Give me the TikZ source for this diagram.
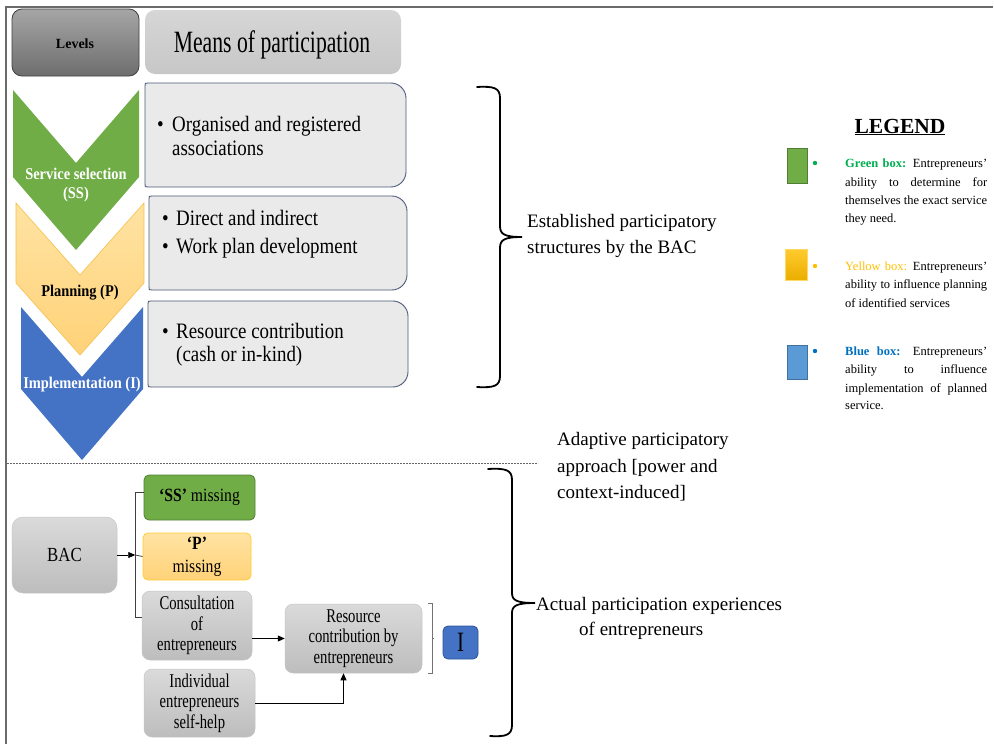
\documentclass[tikz,border=0pt]{standalone}
\usepackage{fontspec}
\setmainfont{Liberation Serif}
\newfontfamily\fA{Liberation Serif}[FakeStretch=0.70]
\newfontfamily\fB{Liberation Serif}[FakeStretch=0.86]
\newfontfamily\fC{Liberation Serif}[FakeStretch=0.75]
\newfontfamily\fD{Liberation Serif}[FakeStretch=0.84]
\newfontfamily\fE{Liberation Serif}[FakeStretch=0.88]
\usetikzlibrary{arrows.meta,calc}
\definecolor{cgreen}{HTML}{70AD47}
\definecolor{cgreenD}{HTML}{507E32}
\definecolor{cyelT}{HTML}{FFE3A3}
\definecolor{cyelB}{HTML}{FFD278}
\definecolor{cyelD}{HTML}{F5C04A}
\definecolor{cblue}{HTML}{4472C4}
\definecolor{cblueD}{HTML}{2F5597}
\definecolor{lgreen}{HTML}{00B050}
\definecolor{lyellow}{HTML}{FFC000}
\definecolor{lblue}{HTML}{0070C0}
\definecolor{sqblue}{HTML}{5B9BD5}
\definecolor{sqblueD}{HTML}{41719C}
\definecolor{sqyT}{HTML}{FFCB2E}
\definecolor{sqyB}{HTML}{EBAE00}
\definecolor{boxfill}{HTML}{EAEAEA}
\definecolor{boxline}{HTML}{4A5A78}
\definecolor{grT}{HTML}{DADADA}
\definecolor{grB}{HTML}{BDBDBD}
\definecolor{grD}{HTML}{C6C6C6}
\newcommand{\meansbox}[4]{%
  \path[meansfill] (#1,#2+3) .. controls (#1,#2) .. (#1+3,#2) -- (#3-15,#2)
    .. controls (#3-7,#2) and (#3,#2+7) .. (#3,#2+15) -- (#3,#4-15)
    .. controls (#3,#4-7) and (#3-7,#4) .. (#3-15,#4) -- (#1+3,#4)
    .. controls (#1,#4) .. (#1,#4-3) -- cycle;}
\begin{document}
\begin{tikzpicture}[x=1pt,y=-1pt,
  frame/.style={draw=black!58, line width=1.5pt},
  meansfill/.style={fill=boxfill, draw=boxline, line width=0.9pt},
  txt/.style={inner sep=0pt, anchor=base west},
  ctxt/.style={inner sep=0pt, anchor=base},
  bul/.style={txt, font=\fB\fontsize{22}{24}\selectfont},
  rtxt/.style={txt, font=\fontsize{19}{22}\selectfont},
  leg/.style={txt, font=\fontsize{12.5}{18}\selectfont},
  gbox/.style={rounded corners=8pt, top color=grT, bottom color=grB, draw=grD, line width=0.5pt,
    inner sep=0pt, align=center, font=\fC\fontsize{19.5}{20.5}\selectfont},
  arr/.style={-{Triangle[length=7pt,width=6pt]}, line width=0.8pt},
  thinline/.style={line width=0.8pt, draw=black!75},
  bracestyle/.style={line width=1.8pt, line cap=round},
  legsq/.style={inner sep=0pt, minimum width=20pt, minimum height=35pt, line width=0.8pt},
  chevtxt/.style={ctxt, font=\fE\bfseries\fontsize{16.4}{19}\selectfont}
]
\useasboundingbox (0,0) rectangle (994,744);
\fill[white] (0,0) rectangle (994,744);
\draw[frame] (6,744) -- (6,7) -- (993,7);

% header
\node[rounded corners=10pt, top color=black!35, bottom color=black!57, draw=black!75, line width=0.8pt,
  minimum width=127pt, minimum height=67pt, inner sep=0pt] (levels) at (75.5,42.5) {};
\node[ctxt, font=\bfseries\fontsize{14}{16}\selectfont] (levelst) at (75,48) {Levels};
\node[rounded corners=10pt, top color=black!16, bottom color=black!22,
  minimum width=256pt, minimum height=64pt, inner sep=0pt] (means) at (273,42) {};
\node[ctxt, font=\fA\fontsize{31}{34}\selectfont] (meanst) at (272,52) {Means of participation};

% chevrons
\path[fill=cgreen] (13,90) -- (76,163) -- (139,90) -- (139,177) -- (76,250) -- (13,177) -- cycle;
\path[top color=cyelT, bottom color=cyelB, draw=cyelD, line width=0.6pt]
  (16,203) -- (80,275) -- (144,203) -- (144,283) -- (80,355) -- (16,283) -- cycle;
\path[fill=cblue] (21,307) -- (82,377) -- (143,307) -- (143,389) -- (82,460) -- (21,389) -- cycle;
\node[chevtxt, text=white] (ss1) at (76,179) {Service selection};
\node[chevtxt, text=white] (ss2) at (76,198) {(SS)};
\node[chevtxt, text=black] (plan) at (80,296) {Planning (P)};
\node[chevtxt, text=white] (impl) at (82,388) {Implementation (I)};

% means boxes
\meansbox{145}{83}{406}{187}
\meansbox{149}{196}{407}{290}
\meansbox{148}{301}{408}{387}
\node[bul] (b1a) at (157,131) {\makebox[15pt][l]{•}Organised and registered};
\node[bul] (b1b) at (172,155) {associations};
\node[bul] (b2a) at (162,225) {\makebox[14pt][l]{•}Direct and indirect};
\node[bul] (b2b) at (162,253) {\makebox[14pt][l]{•}Work plan development};
\node[bul] (b3a) at (162,338) {\makebox[14pt][l]{•}Resource contribution};
\node[bul] (b3b) at (176,361) {(cash or in-kind)};

% braces and right texts
\draw[bracestyle] (477,87) .. controls (494,86) and (500,88) .. (500,98) -- (500,226)
  .. controls (500,234) and (504,237) .. (522,237) .. controls (504,237) and (500,240) .. (500,248)
  -- (500,376) .. controls (500,386) and (494,388) .. (477,387);
\node[rtxt] (est1) at (527,227) {Established participatory};
\node[rtxt] (est2) at (527,253) {structures by the BAC};

\draw[black!60, line width=0.8pt, dash pattern=on 1.6pt off 1.4pt] (7,463) -- (538,463);
\node[rtxt] (ad1) at (557,445) {Adaptive participatory};
\node[rtxt] (ad2) at (557,472) {approach [power and};
\node[rtxt] (ad3) at (557,498) {context-induced]};

\draw[bracestyle] (488,469) .. controls (506,468) and (512,470) .. (512,480) -- (512,593)
  .. controls (512,600) and (516,603) .. (535,603) .. controls (516,603) and (512,606) .. (512,613)
  -- (512,725) .. controls (512,735) and (506,737) .. (490,736);
\node[rtxt] (act1) at (536,610) {Actual participation experiences};
\node[rtxt] (act2) at (579,635) {of entrepreneurs};

% legend
\node[ctxt, font=\bfseries\fontsize{21.5}{24}\selectfont] (legend) at (900,133) {\underline{LEGEND}};
\node[legsq, fill=cgreen, draw=cgreenD] (sqg) at (797,165.5) {};
\node[legsq, minimum width=22pt, minimum height=31pt, top color=sqyT, bottom color=sqyB, draw=lyellow!60] (sqy) at (796,264.5) {};
\node[legsq, minimum height=34pt, fill=sqblue, draw=sqblueD] (sqb) at (797,362) {};
\fill[lgreen] (815,163) circle (2.2pt);
\fill[lyellow] (815,266) circle (2.2pt);
\fill[lblue] (815,351) circle (2.2pt);
\node[leg] (lg1) at (845,167) {\makebox[142pt][s]{\textcolor{lgreen}{\textbf{Green box:}} Entrepreneurs’}};
\node[leg] (lg2) at (845,186) {\makebox[142pt][s]{ability to determine for}};
\node[leg] (lg3) at (845,204) {\makebox[142pt][s]{themselves the exact service}};
\node[leg] (lg4) at (845,222) {they need.};
\node[leg] (ly1) at (845,270) {\makebox[142pt][s]{\textcolor{lyellow}{Yellow box:} Entrepreneurs’}};
\node[leg] (ly2) at (845,288) {\makebox[142pt][s]{ability to influence planning}};
\node[leg] (ly3) at (845,307) {of identified services};
\node[leg] (lb1) at (845,355) {\makebox[142pt][s]{\textcolor{lblue}{\textbf{Blue box:}} Entrepreneurs’}};
\node[leg] (lb2) at (845,373) {\makebox[142pt][s]{ability to influence}};
\node[leg] (lb3) at (845,392) {\makebox[142pt][s]{implementation of planned}};
\node[leg] (lb4) at (845,409) {service.};

% bottom section
\node[gbox, rounded corners=11pt, minimum width=105pt, minimum height=76pt,
  font=\fD\fontsize{20}{22}\selectfont] (bac) at (64.5,555) {BAC};
\node[rounded corners=5pt, fill=cgreen, draw=cgreenD, line width=0.8pt, inner sep=0pt,
  minimum width=111pt, minimum height=45pt, font=\fD\fontsize{18.7}{20}\selectfont] (ss) at (199.5,497.5) {\textbf{‘SS’} missing};
\node[rounded corners=5pt, top color=cyelT, bottom color=cyelB, draw=lyellow!80, line width=0.8pt, inner sep=0pt,
  align=center, minimum width=108pt, minimum height=47pt, font=\fD\fontsize{18.7}{23}\selectfont] (p) at (197,556.5) {\textbf{‘P’}\\missing};
\node[gbox, minimum width=110pt, minimum height=69pt] (cons) at (197,625.5) {Consultation\\of\\entrepreneurs};
\node[gbox, minimum width=111pt, minimum height=68pt] (indiv) at (199.5,703) {Individual\\entrepreneurs\\self-help};
\node[gbox, minimum width=137pt, minimum height=69pt] (res) at (353.5,638.5) {Resource\\contribution by\\entrepreneurs};
\node[rounded corners=5pt, fill=cblue, draw=cblueD, line width=0.8pt, inner sep=0pt,
  minimum width=35pt, minimum height=33pt, font=\fC\fontsize{28}{28}\selectfont] (ibox) at (460.5,642.5) {I};

\coordinate (br) at ($(bac.east)+(18,0)$);
\draw[arr] (bac.east) -- (br);
\draw[thinline] ($(ss.west)+(0,-5)$) -- ++(-8,0) |- ($(cons.west)+(0,-8)$);
\draw[thinline] (br) -- (p.west);
\draw[arr] (cons.east |- res.west) -- (res.west);
\draw[arr] (indiv.east) -| ($(res.south)+(-10,0)$);
\draw[line width=0.6pt, black!55] ($(res.north east)+(6,0)$) -- ++(4,0) -- ($(res.south east)+(10,0)$) -- ++(-4,0);
\draw[line width=0.6pt, black!55] ($(res.east)+(10,0)$) -- ++(2,0);
\end{tikzpicture}
\end{document}
